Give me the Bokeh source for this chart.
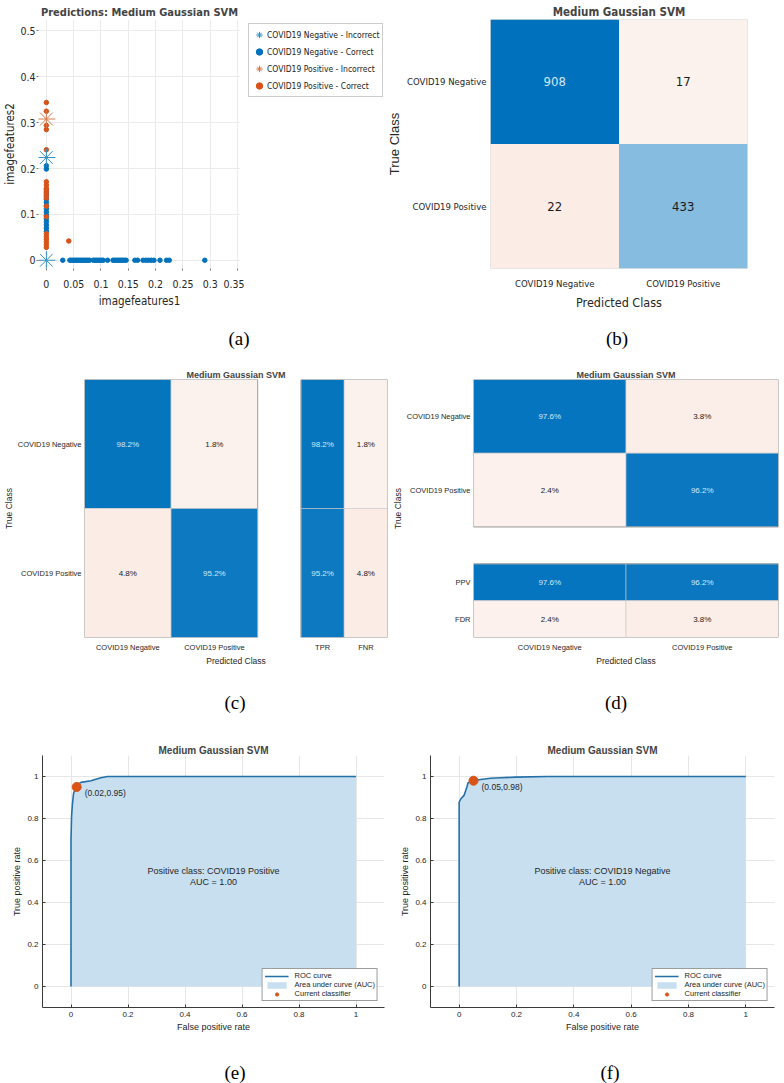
import numpy as np
from bokeh.plotting import figure
from bokeh.layouts import column, row
from bokeh.models import (Range1d, FactorRange, Legend, LegendItem, Label, Div,
                          FixedTicker, ColumnDataSource)
from bokeh.core.properties import value
from bokeh.embed import file_html
from bokeh.resources import INLINE

NARROW = "DejaVu Sans Condensed"
SANS = "Liberation Sans"
INK = "#262626"
BLUE = "#0072BD"
ORANGE = "#D95319"

# ---------------- data ----------------
# (a) scatter of predictions
a_neg_ok_x = [0.030, 0.043, 0.046, 0.049, 0.052, 0.055, 0.058, 0.061, 0.064, 0.067,
              0.070, 0.073, 0.076, 0.079, 0.086, 0.089, 0.092, 0.095, 0.098, 0.101,
              0.104, 0.112, 0.122, 0.125, 0.128, 0.131, 0.134, 0.137, 0.140, 0.143,
              0.146, 0.162, 0.167, 0.177, 0.182, 0.187, 0.192, 0.197, 0.208, 0.220,
              0.225, 0.290,
              0, 0, 0, 0, 0, 0, 0, 0, 0, 0, 0, 0, 0, 0, 0, 0]
a_neg_ok_y = [0, 0, 0, 0, 0, 0, 0, 0, 0, 0,
              0, 0, 0, 0, 0, 0, 0, 0, 0, 0,
              0, 0, 0, 0, 0, 0, 0, 0, 0, 0,
              0, 0, 0, 0, 0, 0, 0, 0, 0, 0,
              0, 0,
              0.063, 0.070, 0.077, 0.084, 0.091, 0.098, 0.105, 0.112, 0.119, 0.126,
              0.133, 0.140, 0.147, 0.154, 0.199, 0.206]
a_pos_ok_x = [0, 0, 0, 0, 0, 0, 0, 0, 0, 0, 0, 0, 0, 0, 0, 0, 0, 0, 0, 0.041]
a_pos_ok_y = [0.028, 0.034, 0.040, 0.046, 0.052, 0.058, 0.095, 0.118, 0.136, 0.143,
              0.150, 0.157, 0.164, 0.171, 0.241, 0.285, 0.294, 0.325, 0.344, 0.042]
a_neg_bad_x = [0, 0]
a_neg_bad_y = [0.224, 0.0]
a_pos_bad_x = [0]
a_pos_bad_y = [0.308]
a_xticks = [0, 0.05, 0.1, 0.15, 0.2, 0.25, 0.3, 0.35]
a_yticks = [0, 0.1, 0.2, 0.3, 0.4, 0.5]
a_legend = ["COVID19 Negative - Incorrect", "COVID19 Negative - Correct",
            "COVID19 Positive - Incorrect", "COVID19 Positive - Correct"]

# (b)-(d) confusion matrices
classes = ["COVID19 Negative", "COVID19 Positive"]
counts = [[908, 17], [22, 433]]
recall_pct = [[98.2, 1.8], [4.8, 95.2]]
tpr_fnr_pct = [[98.2, 1.8], [95.2, 4.8]]
rate_labels = ["TPR", "FNR"]
precision_pct = [[97.6, 3.8], [2.4, 96.2]]
ppv_fdr_pct = [[97.6, 96.2], [2.4, 3.8]]
pred_labels = ["PPV", "FDR"]

# (e), (f) ROC curves
roc_e_fpr = [0, 0, 0.002, 0.005, 0.009, 0.018, 0.026, 0.035, 0.070, 0.105, 0.128, 1.0]
roc_e_tpr = [0, 0.70, 0.81, 0.87, 0.92, 0.95, 0.965, 0.972, 0.980, 0.994, 1.0, 1.0]
roc_e_point = (0.02, 0.95)
roc_f_fpr = [0, 0, 0.006, 0.017, 0.027, 0.031, 0.050, 0.075, 0.110, 0.145, 0.197, 0.308, 1.0]
roc_f_tpr = [0, 0.878, 0.894, 0.910, 0.950, 0.970, 0.980, 0.986, 0.992, 0.994, 0.997, 1.0, 1.0]
roc_f_point = (0.05, 0.98)
roc_ticks = [0, 0.2, 0.4, 0.6, 0.8, 1]

# ---------------- helpers ----------------
WHITE_RGB = (255, 255, 255)
BLUE_RGB = (0, 114, 189)
ORANGE_RGB = (217, 83, 25)


def mix(c1, c2, t):
    t = max(0.0, min(1.0, t))
    return "#%02x%02x%02x" % tuple(int(round(a + (b - a) * t)) for a, b in zip(c1, c2))


def good_colour(t):
    return mix(WHITE_RGB, BLUE_RGB, t)


def bad_colour(t):
    return mix(WHITE_RGB, ORANGE_RGB, 0.06 + t)


def text_colour(t, good):
    return "#d6e8f6" if (good and t > 0.6) else "#1a1a1a"


def base_fig(**kw):
    p = figure(output_backend="svg", toolbar_location=None, **kw)
    p.outline_line_color = None
    p.background_fill_color = "white"
    p.border_fill_color = "white"
    return p


def style_axes(p, font, tick_size, label_size, label_font=None):
    for ax in p.axis:
        ax.major_label_text_font = font
        ax.major_label_text_font_size = tick_size
        ax.major_label_text_color = INK
        ax.axis_label_text_font = label_font or font
        ax.axis_label_text_font_size = label_size
        ax.axis_label_text_font_style = "normal"
        ax.axis_label_text_color = INK
        ax.minor_tick_line_color = None


def matrix_axes(p):
    for ax in p.axis:
        ax.axis_line_color = None
        ax.major_tick_line_color = None
        ax.major_tick_in = 0
        ax.major_tick_out = 0
        ax.minor_tick_in = 0
        ax.minor_tick_out = 0


def fmt_overrides(ticks):
    return {t: f"{t:g}" for t in ticks}


def scatter_groups(p):
    specs = [(a_neg_bad_x, a_neg_bad_y, "asterisk", 18, "#2f8fc4"),
             (a_neg_ok_x, a_neg_ok_y, "circle", 4.5, BLUE),
             (a_pos_bad_x, a_pos_bad_y, "asterisk", 18, "#d9784a"),
             (a_pos_ok_x, a_pos_ok_y, "circle", 4.5, ORANGE)]
    rs = {}
    for idx in (1, 3, 0, 2):   # dots first, stars on top
        xs, ys, mk, sz, col = specs[idx]
        if mk == "circle":
            r = p.scatter(xs, ys, marker=mk, size=sz, fill_color=col, line_color=col)
        else:
            r = p.scatter(xs, ys, marker=mk, size=sz, line_color=col, line_width=1.0)
        rs[idx] = r
    return [rs[i] for i in range(4)]


# ---------------- (a) ----------------
fa = base_fig(width=244, height=318,
              x_range=Range1d(-0.0144, 0.3554), y_range=Range1d(-0.018, 0.525),
              min_border_left=36, min_border_right=4, min_border_top=18, min_border_bottom=50)
fa.title.text = "Predictions: Medium Gaussian SVM"
fa.title.align = "center"
fa.title.text_font = NARROW
fa.title.text_font_size = "11px"
fa.title.text_font_style = "bold"
fa.title.standoff = 1
fa.grid.grid_line_color = "#ebebeb"
style_axes(fa, NARROW, "10.5px", "11.5px")
fa.xaxis.ticker = FixedTicker(ticks=a_xticks)
fa.yaxis.ticker = FixedTicker(ticks=a_yticks)
fa.xaxis.major_label_overrides = fmt_overrides(a_xticks)
fa.yaxis.major_label_overrides = fmt_overrides(a_yticks)
fa.xaxis.axis_label = "imagefeatures1"
fa.yaxis.axis_label = "imagefeatures2"
for ax in fa.axis:
    ax.axis_line_color = None
    ax.major_tick_line_color = "#777777"
    ax.major_tick_in = 0
    ax.major_tick_out = 2
fa.xaxis.major_label_standoff = 9
fa.xaxis.axis_label_standoff = 3
fa.yaxis.major_label_standoff = 1
fa.yaxis.axis_label_standoff = 0
scatter_groups(fa)

# legend for (a), beside the axes (same series, view range kept away from the data)
fa_leg = base_fig(width=140, height=318, x_range=Range1d(1, 2), y_range=Range1d(1, 2),
                  x_axis_type=None, y_axis_type=None,
                  min_border_left=0, min_border_right=0, min_border_top=14, min_border_bottom=0)
leg_rs = scatter_groups(fa_leg)
leg_a = Legend(items=[LegendItem(label=lab, renderers=[r]) for lab, r in zip(a_legend, leg_rs)],
               location="top_left", label_text_font=NARROW, label_text_font_size="8.5px",
               label_text_color="#222222", glyph_width=16, glyph_height=17, spacing=0,
               padding=2, margin=4, label_standoff=0, border_line_color="#9a9a9a",
               label_height=15)
fa_leg.add_layout(leg_a)

# ---------------- (b) ----------------
fb = base_fig(width=400, height=318,
              x_range=FactorRange(factors=classes), y_range=FactorRange(factors=classes[::-1]),
              min_border_left=92, min_border_right=37, min_border_top=19, min_border_bottom=49)
fb.title.text = "Medium Gaussian SVM"
fb.title.align = "center"
fb.title.text_font = NARROW
fb.title.text_font_size = "11.5px"
fb.title.text_font_style = "bold"
fb.title.standoff = 1
fb.grid.grid_line_color = None
fb.outline_line_color = "#e2e2e2"
diag_max = max(counts[i][i] for i in range(len(classes)))
bx, by, bfill, btext, btc = [], [], [], [], []
for i, tc in enumerate(classes):
    row_sum = sum(counts[i])
    for j, pc in enumerate(classes):
        v = counts[i][j]
        bx.append(pc)
        by.append(tc)
        if i == j:
            t = v / diag_max
            bfill.append(good_colour(t))
            btc.append(text_colour(t, True))
        else:
            t = v / row_sum
            bfill.append(bad_colour(t))
            btc.append(text_colour(t, False))
        btext.append(str(v))
src_b = ColumnDataSource(dict(x=bx, y=by, fill=bfill, label=btext, tc=btc))
fb.rect(x="x", y="y", width=1, height=1, fill_color="fill", line_color=None, source=src_b)
fb.text(x="x", y="y", text="label", text_color="tc", text_font=value(NARROW),
        text_font_size="13px", text_align="center", text_baseline="middle", source=src_b)
style_axes(fb, NARROW, "9.5px", "12.5px")
fb.yaxis.axis_label_text_font = SANS
fb.yaxis.axis_label_text_font_size = "13px"
fb.xaxis.axis_label = "Predicted Class"
fb.yaxis.axis_label = "True Class"
matrix_axes(fb)
fb.xaxis.major_label_standoff = 9
fb.xaxis.axis_label_standoff = 3
fb.yaxis.major_label_standoff = 4
fb.yaxis.axis_label_standoff = 2

# ---------------- (c) ----------------
n = len(classes)
fc = base_fig(width=389, height=312,
              x_range=Range1d(0, n + n / 4 * 3), y_range=Range1d(0, n),
              min_border_left=76, min_border_right=2, min_border_top=23, min_border_bottom=30)
fc.title.text = "Medium Gaussian SVM"
fc.title.align = "center"
fc.title.text_font = SANS
fc.title.text_font_size = "9px"
fc.title.text_font_style = "bold"
fc.title.standoff = 0
fc.grid.grid_line_color = None
cx, cy, cw, cfill, ctext, ctc = [], [], [], [], [], []
for i in range(n):
    for j in range(n):
        v = recall_pct[i][j]
        cx.append(j + 0.5)
        cy.append(n - i - 0.5)
        cw.append(1.0)
        good = (i == j)
        cfill.append(good_colour(v / 100) if good else bad_colour(v / 100))
        ctc.append(text_colour(v / 100, good))
        ctext.append(f"{v:.1f}%")
    for k in range(len(rate_labels)):
        v = tpr_fnr_pct[i][k]
        cx.append(n + 0.5 + 0.25 + 0.5 * k)
        cy.append(n - i - 0.5)
        cw.append(0.5)
        good = (k == 0)
        cfill.append(good_colour(v / 100) if good else bad_colour(v / 100))
        ctc.append(text_colour(v / 100, good))
        ctext.append(f"{v:.1f}%")
src_c = ColumnDataSource(dict(x=cx, y=cy, w=cw, fill=cfill, label=ctext, tc=ctc))
fc.rect(x="x", y="y", width="w", height=1, fill_color="fill", line_color="#c9c9c9",
        line_width=0.6, source=src_c)
fc.text(x="x", y="y", text="label", text_color="tc", text_font=value(SANS),
        text_font_size="8px", text_align="center", text_baseline="middle", source=src_c)
fc.rect(x=[n / 2, n + 0.5 + n / 4], y=[n / 2, n / 2], width=[n, n / 2], height=[n, n],
        fill_color=None, line_color="#a3a3a3", line_width=1)
style_axes(fc, SANS, "7.5px", "8.5px")
c_xt = [j + 0.5 for j in range(n)] + [n + 0.75 + 0.5 * k for k in range(len(rate_labels))]
fc.xaxis.ticker = FixedTicker(ticks=c_xt)
fc.xaxis.major_label_overrides = dict(zip(c_xt, classes + rate_labels))
c_yt = [n - i - 0.5 for i in range(n)]
fc.yaxis.ticker = FixedTicker(ticks=c_yt)
fc.yaxis.major_label_overrides = dict(zip(c_yt, classes))
fc.xaxis.axis_label = "Predicted Class"
fc.yaxis.axis_label = "True Class"
matrix_axes(fc)
for ax in fc.axis:
    ax.major_label_standoff = 3
    ax.axis_label_standoff = 1
fc.xaxis.major_label_standoff = 5

# ---------------- (d) ----------------
fd = base_fig(width=395, height=312,
              x_range=Range1d(0, n), y_range=Range1d(0, n + n / 4 * 3),
              min_border_left=78, min_border_right=6, min_border_top=23, min_border_bottom=29)
fd.title.text = "Medium Gaussian SVM"
fd.title.align = "center"
fd.title.text_font = SANS
fd.title.text_font_size = "9px"
fd.title.text_font_style = "bold"
fd.title.standoff = 0
fd.grid.grid_line_color = None
dx, dy, dh, dfill, dtext, dtc = [], [], [], [], [], []
base_main = n * 0.75
for j in range(n):
    for i in range(n):
        v = precision_pct[i][j]
        dx.append(j + 0.5)
        dy.append(base_main + n - i - 0.5)
        dh.append(1.0)
        good = (i == j)
        dfill.append(good_colour(v / 100) if good else bad_colour(v / 100))
        dtc.append(text_colour(v / 100, good))
        dtext.append(f"{v:.1f}%")
    for r in range(len(pred_labels)):
        v = ppv_fdr_pct[r][j]
        dx.append(j + 0.5)
        dy.append(n / 2 - 0.25 - 0.5 * r)
        dh.append(0.5)
        good = (r == 0)
        dfill.append(good_colour(v / 100) if good else bad_colour(v / 100))
        dtc.append(text_colour(v / 100, good))
        dtext.append(f"{v:.1f}%")
src_d = ColumnDataSource(dict(x=dx, y=dy, h=dh, fill=dfill, label=dtext, tc=dtc))
fd.rect(x="x", y="y", width=1, height="h", fill_color="fill", line_color="#c9c9c9",
        line_width=0.6, source=src_d)
fd.text(x="x", y="y", text="label", text_color="tc", text_font=value(SANS),
        text_font_size="8px", text_align="center", text_baseline="middle", source=src_d)
fd.rect(x=[n / 2, n / 2], y=[base_main + n / 2, n / 4], width=[n, n], height=[n, n / 2],
        fill_color=None, line_color="#a3a3a3", line_width=1)
style_axes(fd, SANS, "7.5px", "8.5px")
d_xt = [j + 0.5 for j in range(n)]
fd.xaxis.ticker = FixedTicker(ticks=d_xt)
fd.xaxis.major_label_overrides = dict(zip(d_xt, classes))
d_yt = [base_main + n - i - 0.5 for i in range(n)] + [n / 2 - 0.25 - 0.5 * r for r in range(len(pred_labels))]
fd.yaxis.ticker = FixedTicker(ticks=d_yt)
fd.yaxis.major_label_overrides = dict(zip(d_yt, classes + pred_labels))
fd.xaxis.axis_label = "Predicted Class"
fd.yaxis.axis_label = "True Class"
matrix_axes(fd)
for ax in fd.axis:
    ax.major_label_standoff = 3
    ax.axis_label_standoff = 1
fd.xaxis.major_label_standoff = 5


# ---------------- (e), (f) ----------------
def roc_fig(fpr, tpr, point, pos_class, width, left, right):
    p = base_fig(width=width, height=322,
                 x_range=Range1d(-0.1, 1.1), y_range=Range1d(-0.1, 1.1),
                 min_border_left=left, min_border_right=right,
                 min_border_top=15, min_border_bottom=55)
    p.title.text = "Medium Gaussian SVM"
    p.title.align = "center"
    p.title.text_font = SANS
    p.title.text_font_size = "10px"
    p.title.text_font_style = "bold"
    p.title.standoff = 0
    p.grid.grid_line_color = "#e6e6e6"
    p.xgrid.ticker = FixedTicker(ticks=roc_ticks)
    p.ygrid.ticker = FixedTicker(ticks=roc_ticks)
    area = p.varea(x=fpr, y1=0, y2=tpr, fill_color="#c8dff0")
    line = p.line(fpr, tpr, line_color="#2370a8", line_width=1.6)
    pt = p.scatter([point[0]], [point[1]], marker="circle", size=9,
                   fill_color=ORANGE, line_color=ORANGE)
    p.add_layout(Label(x=point[0], y=point[1], x_offset=8, y_offset=-6,
                       text=f"({point[0]:.2f},{point[1]:.2f})", text_font=SANS,
                       text_font_size="8.5px", text_color=INK, text_baseline="middle"))
    auc = np.trapezoid(tpr, fpr)
    p.add_layout(Label(x=0.5, y=0.55, text=f"Positive class: {pos_class}", text_font=SANS,
                       text_font_size="9px", text_color=INK, text_align="center",
                       text_baseline="middle"))
    p.add_layout(Label(x=0.5, y=0.50, text=f"AUC = {auc:.2f}", text_font=SANS,
                       text_font_size="9px", text_color=INK, text_align="center",
                       text_baseline="middle"))
    style_axes(p, SANS, "8px", "9px")
    p.xaxis.ticker = FixedTicker(ticks=roc_ticks)
    p.yaxis.ticker = FixedTicker(ticks=roc_ticks)
    p.xaxis.major_label_overrides = fmt_overrides(roc_ticks)
    p.yaxis.major_label_overrides = fmt_overrides(roc_ticks)
    p.xaxis.axis_label = "False positive rate"
    p.yaxis.axis_label = "True positive rate"
    for ax in p.axis:
        ax.axis_line_color = "#3a3a3a"
        ax.major_tick_line_color = "#3a3a3a"
        ax.major_tick_in = 3
        ax.major_tick_out = 0
        ax.major_label_standoff = 4
        ax.axis_label_standoff = 2
    leg = Legend(items=[
        LegendItem(label="ROC curve", renderers=[line]),
        LegendItem(label="Area under curve (AUC)", renderers=[area]),
        LegendItem(label="Current classifier", renderers=[pt]),
    ], location="bottom_right", label_text_font=SANS, label_text_font_size="7.5px",
        label_text_color=INK, glyph_width=24, glyph_height=8, label_height=8,
        spacing=0, padding=2, margin=6, label_standoff=6,
        border_line_color="#3a3a3a", border_line_width=0.8)
    p.add_layout(leg)
    return p


fe = roc_fig(roc_e_fpr, roc_e_tpr, roc_e_point, "COVID19 Positive", 395, 42, 11)
ff = roc_fig(roc_f_fpr, roc_f_tpr, roc_f_point, "COVID19 Negative", 389, 35, 10)


# ---------------- captions ----------------
def caption(h, items):
    spans = "".join(
        f'<div style="position:absolute;left:{cxp - 20}px;top:{cyp - 11}px;width:40px;'
        f'height:22px;line-height:22px;text-align:center;font-family:\'Liberation Serif\',serif;'
        f'font-size:19px;color:#000;">{t}</div>'
        for t, cxp, cyp in items)
    return Div(text=f'<div style="position:relative;width:784px;height:{h}px;">{spans}</div>',
               width=784, height=h, margin=0)


cap1 = caption(38, [("(a)", 239, 21), ("(b)", 617, 21)])
cap2 = caption(72, [("(c)", 235, 35), ("(d)", 616, 35)])
cap3 = caption(21, [("(e)", 235, 11), ("(f)", 610, 11)])

layout = column(row(fa, fa_leg, fb, spacing=0), cap1, row(fc, fd, spacing=0), cap2,
                row(fe, ff, spacing=0), cap3, spacing=0)

open("out.html", "w").write(file_html(layout, INLINE))
